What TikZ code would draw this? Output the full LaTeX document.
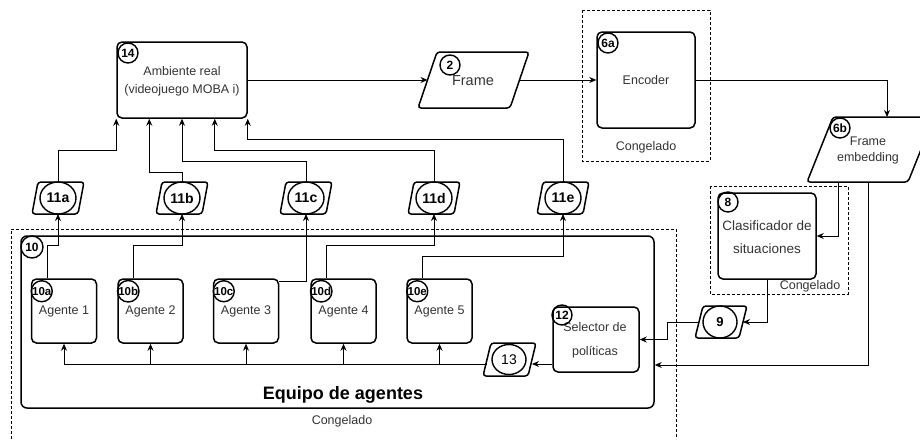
\documentclass[tikz,border=0pt]{standalone}
\usepackage{fontspec}
\setmainfont{Liberation Sans}
\usetikzlibrary{arrows.meta,calc,shapes.geometric}
\definecolor{txt}{HTML}{333333}
\tikzset{
 box/.style={draw, line width=1.5pt, rounded corners=5pt, inner sep=0pt},
 ghost/.style={inner sep=0pt, outer sep=0pt},
 lbl/.style={draw, circle, line width=1.4pt, minimum size=20pt, inner sep=0pt, font=\fontsize{12}{12}\selectfont\bfseries},
 big/.style={draw, ellipse, line width=1.4pt, minimum width=36pt, minimum height=32pt, inner sep=0pt, font=\fontsize{14}{14}\selectfont\bfseries},
 con/.style={line width=0.9pt},
 arr/.style={con, -{Stealth[length=7pt,width=6pt]}},
 dsh/.style={line width=0.8pt, dash pattern=on 3pt off 2pt},
 t/.style={text=txt, font=\fontsize{12.5}{15}\selectfont, align=center},
 para/.style={line width=1.5pt, rounded corners=3pt}
}
\begin{document}
\begin{tikzpicture}[x=1pt,y=-1pt]
\useasboundingbox (0,0) rectangle (920,439);

% 14 real environment
\node[box, minimum width=130pt, minimum height=76pt] (n14) at (182,80) {};
\node[t, font=\fontsize{12.5}{18}\selectfont] at (182,81) {Ambiente real\\(videojuego MOBA i)};
\node[lbl] at (128,53) {14};

% 2 Frame
\draw[para] (437,52) -- (529,52) -- (510,108) -- (418,108) -- cycle;
\node[ghost, minimum width=92pt, minimum height=56pt] (fr) at (473.5,80) {};
\node[t, font=\fontsize{14.5}{15}\selectfont] at (473,81) {Frame};
\node[lbl] at (450,65) {2};

% 6a Encoder
\draw[dsh] (582,10) rectangle (710,161);
\node[box, minimum width=98pt, minimum height=96pt] (enc) at (646,80) {};
\node[t] at (646,80) {Encoder};
\node[t] at (646,147) {Congelado};
\node[lbl] at (608,43) {6a};

% 6b Frame embedding
\draw[para] (833,117) -- (934,117) -- (908,182) -- (807,182) -- cycle;
\node[ghost, minimum width=100pt, minimum height=65pt] (e6b) at (868,149.5) {};
\node[t, font=\fontsize{12.5}{16}\selectfont] at (868,150) {Frame\\embedding};
\node[lbl] at (840,128) {6b};

% 8 classifier
\draw[dsh] (710,186) rectangle (848,294);
\node[box, minimum width=98pt, minimum height=86pt] (n8) at (767,236) {};
\node[t, font=\fontsize{13.5}{23}\selectfont] at (767,237.5) {Clasificador de\\situaciones};
\node[t] at (810,286) {Congelado};
\node[lbl] at (728,202) {8};

% 9
\draw[para] (703,306) -- (747,306) -- (739,338) -- (695,338) -- cycle;
\node[ghost, minimum width=44pt, minimum height=32pt] (n9) at (721,322) {};
\node[big, minimum width=34pt, minimum height=32pt, font=\fontsize{13}{13}\selectfont\bfseries] at (720,322) {9};

% 10 team
\draw[dsh] (11,439) -- (11,229) -- (676,229) -- (676,439);
\node[box, rounded corners=6pt, minimum width=633pt, minimum height=172pt] (n10) at (337.5,322) {};
\node[lbl, minimum size=22pt] at (32,247) {10};
\node[font=\fontsize{18}{18}\selectfont\bfseries] at (343,395) {Equipo de agentes};
\node[t] at (342,421) {Congelado};

% agents
\foreach \i/\x/\l in {1/64/a,2/150.5/b,3/246/c,4/343.5/d,5/439.5/e}{
 \node[box, minimum width=65pt, minimum height=64pt] (a\i) at (\x,311) {};
 \node[t] at (\x,311) {Agente \i};
 \node[lbl, minimum size=21pt, font=\fontsize{11.5}{11.5}\selectfont\bfseries] at ($(a\i.north west)+(11,13)$) {10\l};
}

% 12 selector
\node[box, minimum width=86pt, minimum height=65pt] (n12) at (596,339.5) {};
\node[t, font=\fontsize{12.5}{24}\selectfont] at (595,340) {Selector de\\políticas};
\node[lbl] at (562,315) {12};

% 13
\draw[para] (491,343) -- (536,343) -- (528,376) -- (483,376) -- cycle;
\node[ghost, minimum width=45pt, minimum height=33pt] (n13) at (509.5,359.5) {};
\node[big, minimum width=34pt, minimum height=30pt, font=\fontsize{14}{14}\selectfont] at (509,359.5) {13};

% 11a-e
\foreach \n/\x in {a/58,b/182,c/306,d/434,e/563}{
 \draw[para] (\x-20,182) -- (\x+26,182) -- (\x+20,214) -- (\x-26,214) -- cycle;
 \node[ghost, minimum width=40pt, minimum height=32pt] (n11\n) at (\x,198) {};
 \node[big] at (\x,198) {11\n};
}

% connectors
\draw[arr] (n14.east) -- (fr.west);
\draw[arr] (fr.east) -- (enc.west);
\draw[arr] (enc.east) -| ($(e6b.north)+(19,0)$);
\draw[arr] ($(e6b.south)+(-30,0)$) |- (n8.east);
\draw[arr] (n8.south) |- (n9.east);
\draw[arr] (n9.west) -- ++(-32,0) |- (n12.east);
\draw[arr] (e6b.south) |- ($(n10.east)+(0,43)$);
\coordinate (bar) at (0,364);
\draw[arr] (n12.west |- bar) -- (n13.east |- bar);
\draw[con] (n13.west |- bar) -- (a1.south |- bar);
\foreach \i in {1,...,5} \draw[arr] (a\i.south |- bar) -- (a\i.south);

\draw[arr] ($(a1.north west)+(17,0)$) -- ++(0,-33) -| (n11a.south);
\draw[arr] ($(a2.north west)+(16,0)$) -- ++(0,-33) -| (n11b.south);
\draw[arr] ($(a3.north east)+(0,3)$) -| (n11c.south);
\draw[arr] ($(a4.north west)+(16,0)$) -- ++(0,-33) -| (n11d.south);
\draw[arr] ($(a5.north west)+(16,0)$) -- ++(0,-22) -| (n11e.south);

\draw[arr] (n11a.north) -- ++(0,-32) -| (n14.south west);
\draw[arr] (n11b.north) -- ++(0,-10) -| ($(n14.south west)+(33,0)$);
\draw[arr] (n11c.north) -- ++(0,-21) -| (n14.south);
\draw[arr] (n11d.north) -- ++(0,-32) -| ($(n14.south east)+(-33,0)$);
\draw[arr] (n11e.north) -- ++(0,-43) -| (n14.south east);
\end{tikzpicture}
\end{document}
